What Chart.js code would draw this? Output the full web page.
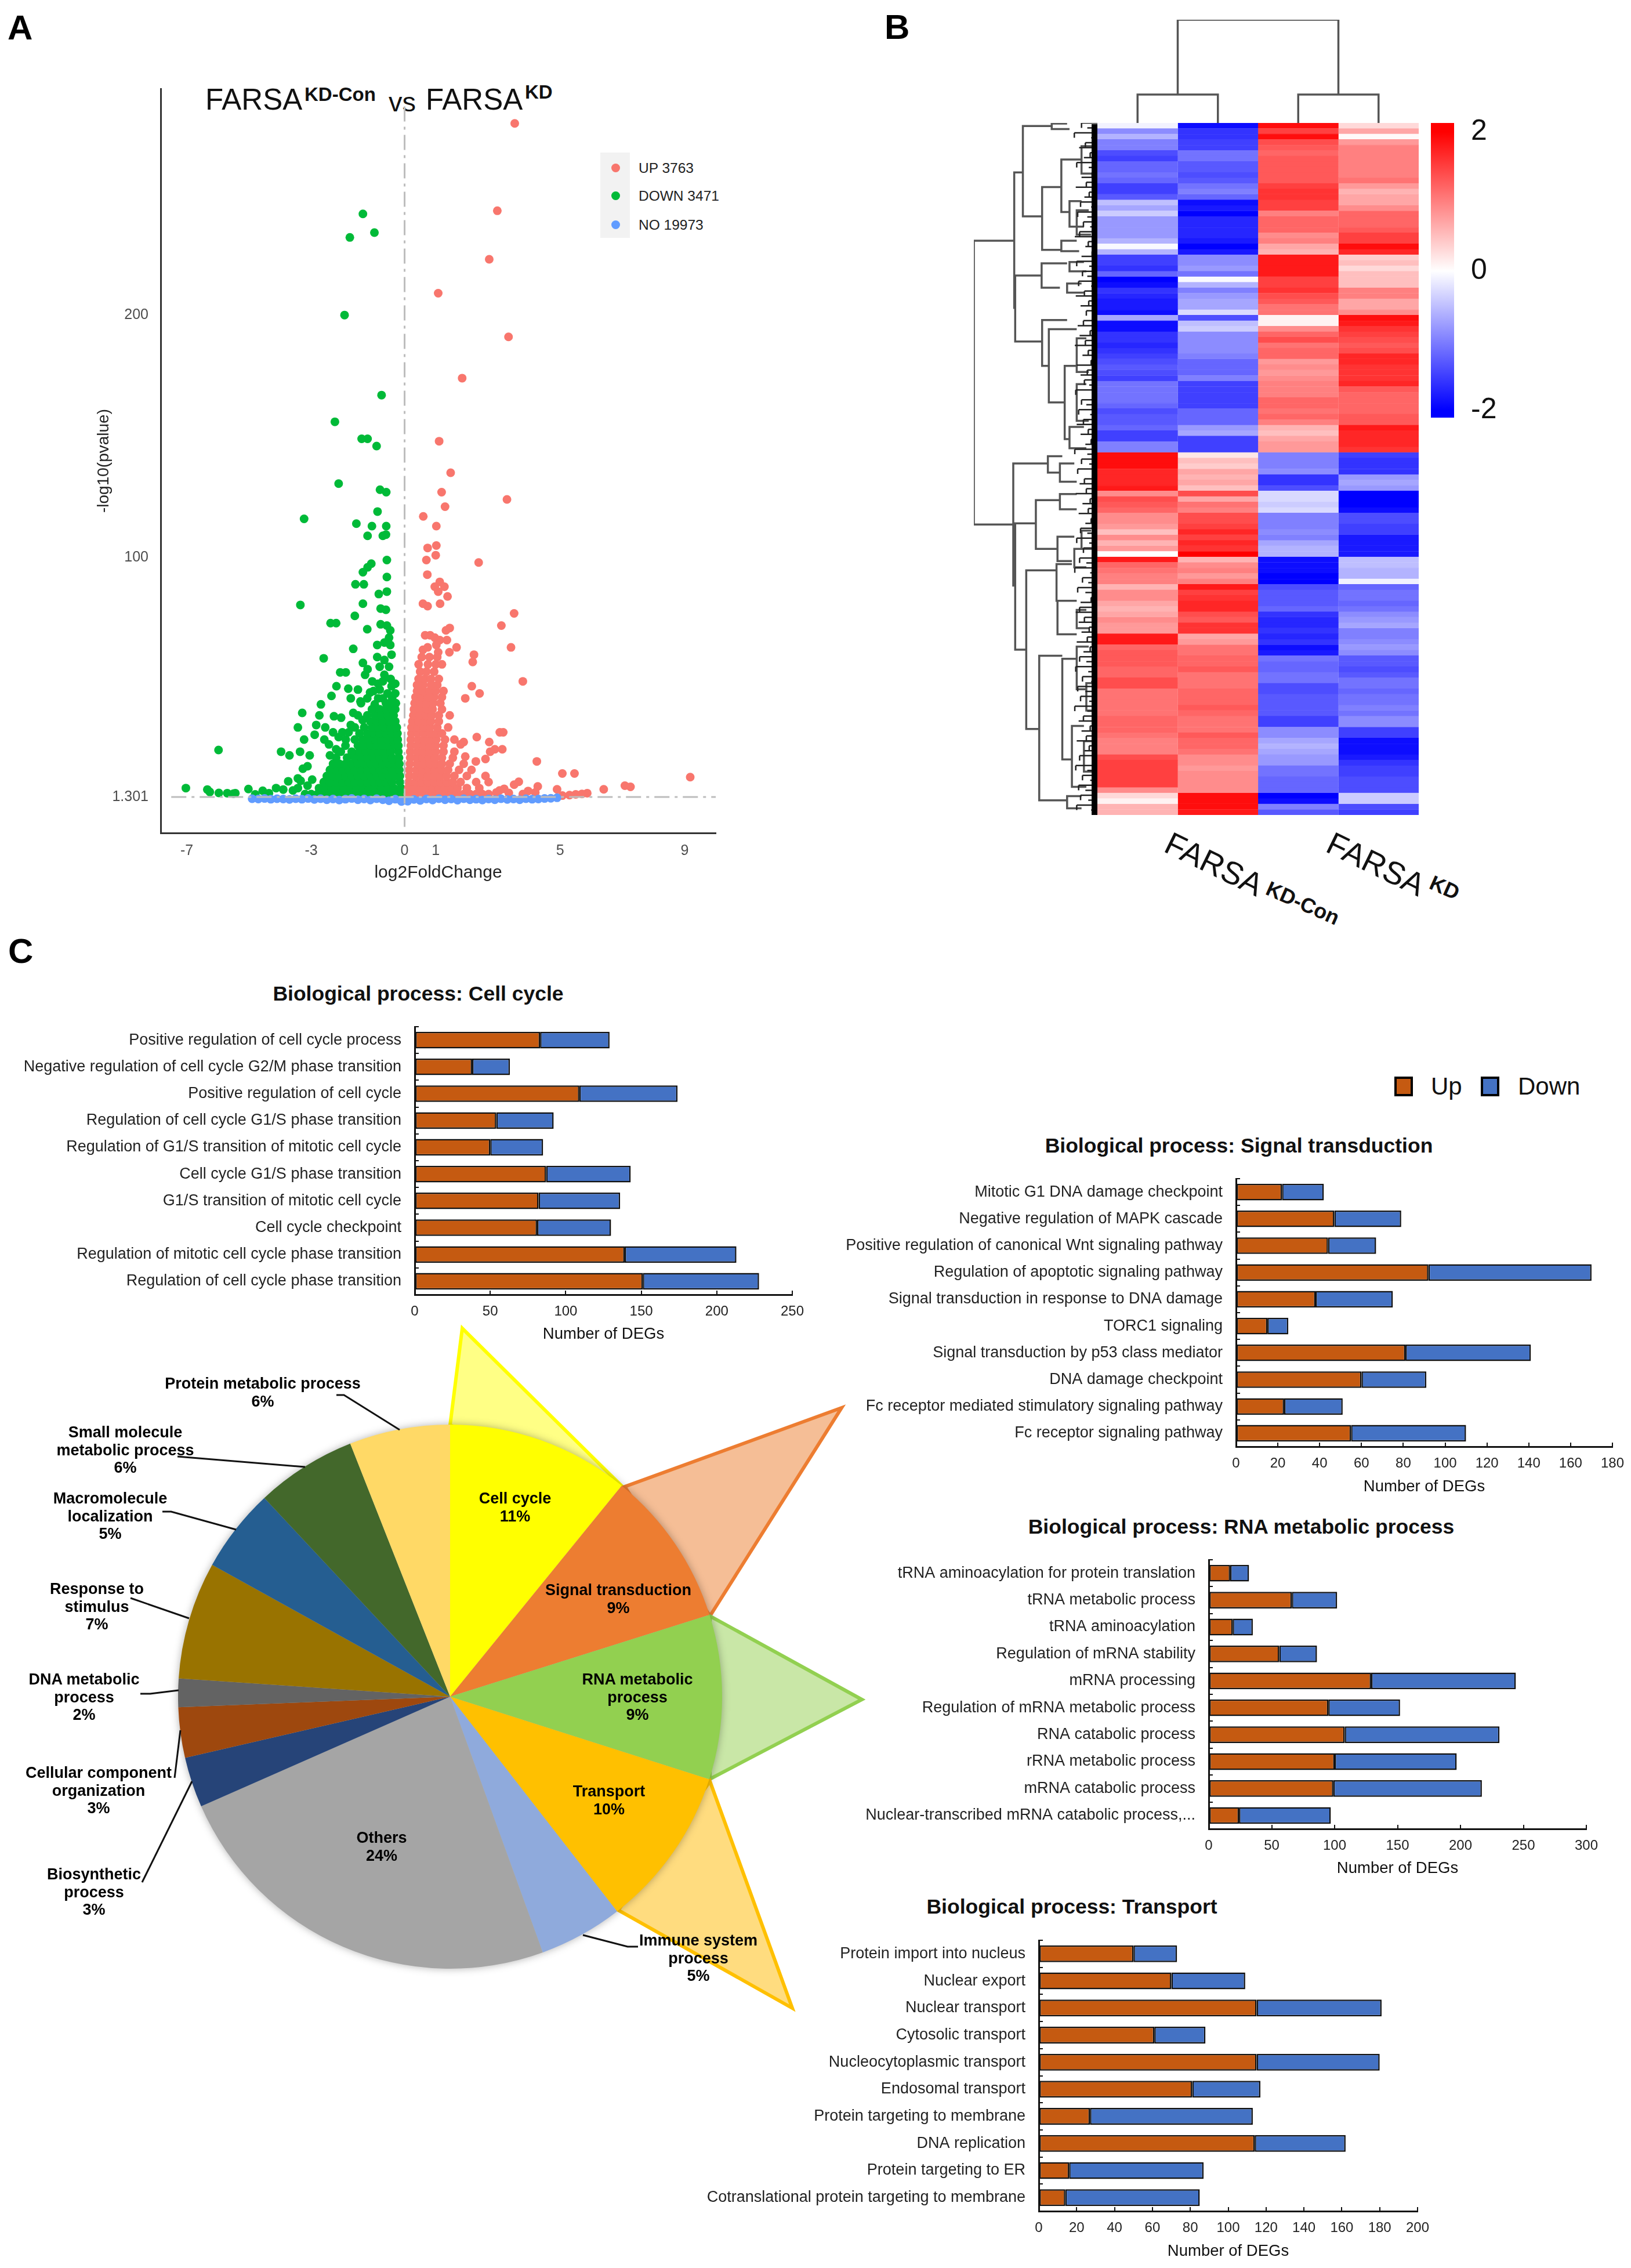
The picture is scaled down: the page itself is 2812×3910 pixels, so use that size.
<!DOCTYPE html>
<html>
<head>
<meta charset="utf-8">
<script src="https://cdn.jsdelivr.net/npm/chart.js@4"></script>
<style>
    html, body { margin: 0; padding: 0; background: #fff; }
    body { position: relative; width: 2812px; height: 3910px; overflow: hidden; font-family: 'Liberation Sans', Arial, sans-serif; color: #111; }
    canvas { position: absolute; }
    svg { position: absolute; left: 0; top: 0; }
    .t { position: absolute; white-space: nowrap; line-height: 1; }
    .c { transform: translate(-50%, -50%); text-align: center; }
    .panel { font-size: 60px; font-weight: bold; color: #000; }
    .bar-title { font-size: 35.5px; font-weight: bold; }
    .pie-label { font-size: 27px; font-weight: bold; line-height: 30.5px; z-index: 5; color: #000; }
    .swatch { position: absolute; width: 24px; height: 26px; border: 4px solid #000; }
    .dot { position: absolute; width: 15px; height: 15px; border-radius: 50%; }
</style>
</head>
<body>

<!-- panel letters -->
<div class="t panel" style="left:13px;top:18px">A</div>
<div class="t panel" style="left:1525px;top:17px">B</div>
<div class="t panel" style="left:14px;top:1610px">C</div>

<!-- volcano title -->
<div class="t" style="left:354px;top:146px;font-size:51px">FARSA</div>
<div class="t" style="left:525px;top:146px;font-size:33px;font-weight:bold">KD-Con</div>
<div class="t" style="left:670px;top:152px;font-size:47px">vs</div>
<div class="t" style="left:734px;top:146px;font-size:51px">FARSA</div>
<div class="t" style="left:905px;top:142px;font-size:33px;font-weight:bold">KD</div>

<!-- volcano legend -->
<div style="position:absolute;left:1035px;top:263px;width:51px;height:147px;background:#f2f2f2"></div>
<div class="dot" style="left:1054px;top:282px;background:#F8766D"></div>
<div class="dot" style="left:1054px;top:330px;background:#00BA38"></div>
<div class="dot" style="left:1054px;top:380px;background:#619CFF"></div>
<div class="t" style="left:1101px;top:278px;font-size:24.5px;color:#222">UP 3763</div>
<div class="t" style="left:1101px;top:326px;font-size:24.5px;color:#222">DOWN 3471</div>
<div class="t" style="left:1101px;top:376px;font-size:24.5px;color:#222">NO 19973</div>

<canvas id="volcano" width="1140" height="1400" style="left:162px;top:123px"></canvas>

<canvas id="dendroTop" width="554" height="178" style="left:1892px;top:34px"></canvas>
<canvas id="dendroLeft" width="213" height="1193" style="left:1679px;top:212px"></canvas>
<canvas id="heat" width="554" height="1193" style="left:1892px;top:212px"></canvas>
<canvas id="colorbar" width="140" height="592" style="left:2467px;top:170px"></canvas>

<!-- heatmap column labels -->
<div class="t" style="left:2004px;top:1421px;font-size:55px;transform-origin:0 46px;transform:rotate(26deg)">FARSA</div>
<div class="t" style="left:2180px;top:1511px;font-size:36px;font-weight:bold;transform-origin:0 30px;transform:rotate(24deg)">KD-Con</div>
<div class="t" style="left:2283px;top:1421px;font-size:55px;transform-origin:0 46px;transform:rotate(26deg)">FARSA</div>
<div class="t" style="left:2462px;top:1501px;font-size:36px;font-weight:bold;transform-origin:0 30px;transform:rotate(24deg)">KD</div>

<!-- bar chart titles -->
<div class="t c bar-title" style="left:721px;top:1714px">Biological process: Cell cycle</div>
<div class="t c bar-title" style="left:2136px;top:1976px">Biological process: Signal transduction</div>
<div class="t c bar-title" style="left:2140px;top:2633px">Biological process: RNA metabolic process</div>
<div class="t c bar-title" style="left:1848px;top:3288px">Biological process: Transport</div>

<canvas id="barCell" width="1000" height="640"></canvas>
<canvas id="barSignal" width="1000" height="640"></canvas>
<canvas id="barRna" width="1000" height="640"></canvas>
<canvas id="barTransport" width="1000" height="640"></canvas>

<!-- up / down key -->
<div class="swatch" style="left:2404px;top:1856px;background:#C55A11"></div>
<div class="t" style="left:2467px;top:1852px;font-size:42px">Up</div>
<div class="swatch" style="left:2553px;top:1856px;background:#4472C4"></div>
<div class="t" style="left:2617px;top:1852px;font-size:42px">Down</div>

<!-- exploded wedges behind the pie -->
<svg width="2812" height="3910" style="z-index:1">
    <polygon points="797,2290 776,2457 1073,2563" fill="#FFFF85" stroke="#FFFF00" stroke-width="6" stroke-linejoin="miter"/>
    <polygon points="1451,2427 1077,2563 1224,2786" fill="#F5BE96" stroke="#ED7D31" stroke-width="6"/>
    <polygon points="1486,2930 1224,2786 1224,3067" fill="#C9E7A7" stroke="#92D050" stroke-width="6"/>
    <polygon points="1366,3462 1224,3071 1066,3293" fill="#FFDC7F" stroke="#FFC000" stroke-width="6"/>
</svg>

<canvas id="pie" width="1000" height="1000" style="left:276px;top:2425px;z-index:2;filter:drop-shadow(0 0 7px rgba(0,0,0,.3))"></canvas>

<!-- leader lines -->
<svg width="2812" height="3910" style="z-index:3" fill="none" stroke="#111" stroke-width="3">
    <polyline points="580,2405 593,2405 689,2465"/>
    <polyline points="306,2511 526,2529"/>
    <polyline points="280,2606 295,2606 407,2637"/>
    <polyline points="225,2755 326,2790"/>
    <polyline points="242,2920 259,2920 308,2914"/>
    <polyline points="301,3065 311,2983"/>
    <polyline points="245,3245 331,3071"/>
    <polyline points="1005,3336 1082,3356 1100,3356"/>
</svg>

<div class="t c pie-label" style="left:888px;top:2598px">Cell cycle<br>11%</div>
<div class="t c pie-label" style="left:1066px;top:2756px">Signal transduction<br>9%</div>
<div class="t c pie-label" style="left:1099px;top:2926px">RNA metabolic<br>process<br>9%</div>
<div class="t c pie-label" style="left:1050px;top:3103px">Transport<br>10%</div>
<div class="t c pie-label" style="left:658px;top:3183px">Others<br>24%</div>
<div class="t c pie-label" style="left:1204px;top:3376px">Immune system<br>process<br>5%</div>
<div class="t c pie-label" style="left:453px;top:2400px">Protein metabolic process<br>6%</div>
<div class="t c pie-label" style="left:216px;top:2500px">Small molecule<br>metabolic process<br>6%</div>
<div class="t c pie-label" style="left:190px;top:2614px">Macromolecule<br>localization<br>5%</div>
<div class="t c pie-label" style="left:167px;top:2770px">Response to<br>stimulus<br>7%</div>
<div class="t c pie-label" style="left:145px;top:2926px">DNA metabolic<br>process<br>2%</div>
<div class="t c pie-label" style="left:170px;top:3087px">Cellular component<br>organization<br>3%</div>
<div class="t c pie-label" style="left:162px;top:3262px">Biosynthetic<br>process<br>3%</div>

<script>
// volcano, [log2FC, -log10 p]
const volcanoUp = [
    [3.54,279],[2.98,243],[2.72,223],[1.08,209],[3.34,191],[1.85,174],[1.11,148],[1.48,135],[1.19,127],[3.29,124],[1.3,121],[.6,117],
    [1.02,113],[1.02,105],[.74,104],[1,101],[.7,99],[2.38,98],[.73,93],[1.13,90],[.97,88],[1.28,88],[1.08,86],[1.38,84],[1.14,81],[.59,81],[.74,80],
    [3.52,77],[3.11,72],[1.33,70],[1.45,71],[.66,68],[.82,68],[.97,67],[1.13,66],[1.36,66],[3.42,63],[.59,62],[.74,63],[1.02,64],[1.08,61],
    [1.67,63],[1.44,61],[2.23,60],[2.19,57],[3.8,49],[2.16,47],[2.41,44],[1.95,42],[3.06,28],[3.17,28],[2.32,26],[2.72,24],[1.9,24],[1.8,23],
    [3.14,21],[2.9,21],[2.75,20],[2.6,17],[2.29,16],[1.95,18],[4.25,16],[5.07,11],[5.46,11],[9.18,9.5],[7.08,6],[7.26,5.5],[6.4,4.5],[5.87,2.9],
    [5.7,2.6],[5.5,2.4],[5.3,2.1],[5.07,1.9],[4.9,4.5],[4.28,5.7],[3.97,3.8],[3.67,7.6],[3.52,6.4],[3.2,4.7],[3.05,4],[4.2,3.2],[3.35,3],[3.8,2.5],[2.95,3.2],
    [.1,2.5],[.3,2.5],[.5,2.5],[.7,2.5],[.9,2.5],[1.1,2.5],[1.3,2.5],[1.5,2.5],[1.7,2.5],[1.9,2.5],[2.1,2.5],[2.3,2.5],[2.5,2.5],[2.7,2.5],
    [.12,5],[.3,5],[.5,5],[.7,5],[.9,5],[1.1,5],[1.3,5],[1.5,5],[1.7,5],[2,5],[2.4,5],
    [.13,7.5],[.35,7.5],[.55,7.5],[.75,7.5],[.95,7.5],[1.15,7.5],[1.35,7.5],[1.55,7.5],[1.8,7.5],[2.3,7.5],[2.7,7.5],
    [.15,10],[.35,10],[.55,10],[.75,10],[.95,10],[1.15,10],[1.35,10],[1.6,10],[2,10],[2.6,10],
    [.15,12.5],[.38,12.5],[.58,12.5],[.78,12.5],[.98,12.5],[1.18,12.5],[1.4,12.5],[1.75,12.5],[2.15,12.5],
    [.17,15],[.4,15],[.6,15],[.8,15],[1,15],[1.2,15],[1.45,15],[1.9,15],
    [.18,17.5],[.38,17.5],[.58,17.5],[.78,17.5],[.98,17.5],[1.2,17.5],[1.55,17.5],
    [.18,20],[.4,20],[.6,20],[.8,20],[1,20],[1.25,20],[1.6,20],
    [.2,22.5],[.4,22.5],[.6,22.5],[.8,22.5],[1,22.5],[1.25,22.5],
    [.2,25],[.42,25],[.62,25],[.82,25],[1.02,25],[1.3,25],[1.6,25],
    [.22,27.5],[.42,27.5],[.62,27.5],[.82,27.5],[1.02,27.5],[1.2,27.5],
    [.22,30],[.42,30],[.62,30],[.82,30],[1.05,30],[1.4,30],
    [.25,32.5],[.45,32.5],[.65,32.5],[.85,32.5],[1.1,32.5],
    [.28,35],[.48,35],[.68,35],[.88,35],[1.1,35],[1.45,35],
    [.3,37.5],[.5,37.5],[.7,37.5],[.9,37.5],[1.2,37.5],
    [.32,40],[.52,40],[.72,40],[.92,40],[1.15,40],
    [.35,42.5],[.55,42.5],[.75,42.5],[.95,42.5],[1.2,42.5],
    [.4,45],[.6,45],[.8,45],[1,45],[1.25,45],
    [.4,47.5],[.6,47.5],[.85,47.5],[1.05,47.5],
    [.45,50],[.65,50],[.85,50],[1.1,50],
    [.5,53],[.7,53],[.95,53],
    [.45,56],[.75,56],[1,56],[1.2,56],
    [.55,59],[.8,59],[1.05,59],
];
const volcanoDown = [
    [-1.34,241.7],[-.97,234],[-1.76,232],[-1.93,200],[-.74,167],[-2.24,156],[-1.19,149],[-1.38,149],[-.9,146],[-2.12,130.5],[-.79,128],[-.59,127],[-.87,119],
    [-3.23,116],[-1.55,114],[-1.05,113],[-.59,113],[-1.19,109],[-.7,109],[-.6,109.5],[-.57,99],[-1.07,97.5],[-1.19,96],[-1.34,94],[-.57,92],[-.83,85],[-.57,86],
    [-1.58,89],[-1.31,89],[-1.34,81],[-3.35,80.5],[-.77,79],[-.6,78.5],[-1.6,76],[-2.38,73],[-2.2,73],[-1.2,70.5],[-.77,72.5],[-.57,72],[-.46,70],[-.5,67],[-.65,65],
    [-.88,64],[-.46,64],[-1.65,62.4],[-2.6,58.5],[-1.34,56.6],[-.88,59],[-.65,57.8],[-.42,60],[-2.07,52.7],[-1.89,52.7],[-1.19,54],[-.8,55],[-.5,55],[-1.27,51.7],[-1.04,49],[-.65,51.7],
    [-2.35,43],[-2.19,47],[-1.81,46],[-1.5,45.6],[-1.11,44.4],[-.8,45.6],[-.42,47],[-2.69,39.5],[-1.73,42],[-1.42,40.7],[-.96,39.5],[-.5,39.5],[-3.29,36],[-2.74,35],[-2.27,34.6],[-2.04,34],
    [-1.65,36],[-3.43,30],[-2.84,31],[-2.89,27],[-1.73,31],[-2.58,25],[-2.12,26],[-1.89,25],[-3.23,25],[-2.43,23],[-2.2,21],[-5.98,20.7],[-3.97,20],[-3.7,18.5],[-3.36,20],[-3.05,18.5],[-3.12,14],[-3.27,13],[-3.43,9],[-2.4,18.5],
    [-1.5,35],[-1.35,33],[-1.6,30],[-1.8,28],[-2,28],[-2.3,28],[-2.55,30],[-1.4,40],[-1.2,42],[-1,45],[-.85,48],[-.7,42],[-.55,44],[-.4,42],[-.3,44],[-.28,40],[-.6,40],[-.85,42],[-.45,50],[-.7,49],[-.3,48],
    [-7.03,5],[-6.34,4.4],[-6.26,3.4],[-5.97,3],[-5.7,2.9],[-5.5,2.7],[-5.02,4.6],[-5.44,2.9],[-4.56,3.9],[-4.13,5],[-3.9,4.4],[-3.59,4],[-4.36,2.9],[-4.8,2.4],[-3.43,5],[-3.12,6],[-3.74,7.8],[-2.97,8.5],[-3.34,8],
    [-3.2,2.5],[-3,2.5],[-2.8,2.5],[-2.6,2.5],[-2.4,2.5],[-2.2,2.5],[-2,2.5],[-1.8,2.5],[-1.6,2.5],[-1.4,2.5],[-1.2,2.5],[-1,2.5],[-.8,2.5],[-.6,2.5],[-.4,2.5],[-.2,2.5],[-.08,2.5],
    [-2.75,5],[-2.55,5],[-2.35,5],[-2.15,5],[-1.95,5],[-1.75,5],[-1.55,5],[-1.35,5],[-1.15,5],[-.95,5],[-.75,5],[-.55,5],[-.35,5],[-.12,5],
    [-2.6,7.5],[-2.4,7.5],[-2.2,7.5],[-2,7.5],[-1.8,7.5],[-1.6,7.5],[-1.4,7.5],[-1.2,7.5],[-1,7.5],[-.8,7.5],[-.6,7.5],[-.4,7.5],[-.15,7.5],
    [-2.5,10],[-2.3,10],[-2.1,10],[-1.9,10],[-1.7,10],[-1.5,10],[-1.3,10],[-1.1,10],[-.9,10],[-.7,10],[-.5,10],[-.3,10],[-.15,10],
    [-2.4,12.5],[-2.2,12.5],[-2,12.5],[-1.8,12.5],[-1.6,12.5],[-1.4,12.5],[-1.2,12.5],[-1,12.5],[-.8,12.5],[-.6,12.5],[-.4,12.5],[-.17,12.5],
    [-2.3,15],[-2.1,15],[-1.9,15],[-1.7,15],[-1.5,15],[-1.3,15],[-1.1,15],[-.9,15],[-.7,15],[-.5,15],[-.3,15],[-.17,15],
    [-2.2,17.5],[-1.85,17.5],[-1.6,17.5],[-1.4,17.5],[-1.2,17.5],[-1,17.5],[-.8,17.5],[-.6,17.5],[-.4,17.5],[-.18,17.5],
    [-2.05,20],[-1.7,20],[-1.45,20],[-1.25,20],[-1.05,20],[-.85,20],[-.65,20],[-.45,20],[-.2,20],
    [-1.9,22.5],[-1.5,22.5],[-1.3,22.5],[-1.1,22.5],[-.9,22.5],[-.7,22.5],[-.5,22.5],[-.3,22.5],[-.2,22.5],
    [-1.6,25],[-1.35,25],[-1.15,25],[-.95,25],[-.75,25],[-.55,25],[-.35,25],[-.22,25],
    [-1.45,27.5],[-1.2,27.5],[-1,27.5],[-.8,27.5],[-.6,27.5],[-.4,27.5],[-.23,27.5],
    [-1.3,30],[-1.05,30],[-.85,30],[-.65,30],[-.45,30],[-.25,30],
    [-1.1,32.5],[-.9,32.5],[-.7,32.5],[-.5,32.5],[-.3,32.5],
    [-1.2,35],[-.95,35],[-.75,35],[-.55,35],[-.35,35],
    [-1.05,37.5],[-.8,37.5],[-.6,37.5],[-.4,37.5],[-.3,37.5],
];
const volcanoNo = [
    [-4.9,.6],[-4.7,.5],[-4.5,.7],[-4.3,.4],[-4.1,.6],[-3.9,.5],[-3.7,.3],[-3.5,.6],[-3.3,.4],[-3.1,.7],[-2.9,.3],[-2.7,.6],[-2.5,.2],[-2.3,.5],[-2.1,.1],[-1.9,.4],
    [-1.7,.7],[-1.5,.2],[-1.3,.5],[-1.1,.1],[-.9,.6],[-.7,.2],[-.5,-.2],[-.3,.4],[-.1,-.5],[.1,-.4],[.3,.3],[.5,-.1],[.7,.5],[.9,.1],[1.1,.6],[1.3,.2],[1.5,.5],[1.7,0],
    [1.9,.6],[2.1,.2],[2.3,.4],[2.5,.1],[2.7,.5],[2.9,.2],[3.1,.6],[3.3,.3],[3.5,.5],[3.7,.2],[3.9,.6],[4.1,.4],[4.3,.5],[4.5,.7],[4.7,.8],[4.9,1],
];
const volcanoXTicks = [-7, -3, 0, 1, 5, 9];
const volcanoYTicks = [1.301, 100, 200];

// heatmap rows, z-score per sample
const heatCon1 = [-.1,-.9,-.6,-1,-1,-1.4,-1.5,-1.2,-1.2,-1.1,-1.2,-1.5,-1.5,-1.3,-.5,-.7,-.4,-.8,-.8,-.8,-.8,-.6,-.05,-.6,-1.5,-1.5,-1.6,-1.2,-2,-1.9,-1.6,-1.7,-1.8,-1.8,-1.9,-.7,-1.9,-1.9,-1.6,-1.6,-1.7,-1.6,-1.5,-1.4,-1.3,-1.4,-1.5,-1.1,-1.1,-1.1,-1.1,-1.2,-1.4,-1.3,-1.3,-1.2,-1.5,-1.5,-1,-1,1.9,1.9,1.9,
    1.7,1.7,1.7,1.8,.9,1.4,1.3,1.2,.9,.9,.8,.5,.9,.6,.8,0,1.8,1.2,1.1,1,1,.6,.9,.9,.7,.6,.7,.9,.8,.8,1.8,1.8,1.2,1.3,1.3,1.3,1.2,1.2,1.4,1.4,1.1,1.1,1.1,1.1,1.1,1.2,1.2,1.2,1.1,1,1,1,1.4,1.5,1.5,1.5,1.5,1.5,.9,.3,.1,.6,.6];
const heatCon2 = [-1.9,-1.6,-1.6,-1.5,-1.5,-1.1,-1.1,-1.3,-1.3,-1.4,-1.3,-1.1,-1,-1.2,-1.9,-1.8,-2,-1.7,-1.7,-1.7,-1.7,-1.8,-2,-1.8,-.9,-.9,-.8,-1.1,-.05,-.6,-1,-.8,-.7,-.7,-.3,-1.4,-.5,-.4,-.9,-.9,-.9,-.9,-1,-1.2,-1.2,-1.2,-1,-1.5,-1.5,-1.5,-1.5,-1.5,-1.2,-1.2,-1.2,-.8,-.7,-1.5,-1.5,-1.5,.2,.5,.4,
    .7,.6,.7,.5,1.4,.7,1.1,1,1.4,1.4,1.5,1.7,1.5,1.7,1.6,2,.6,.9,1,.8,1,1.8,1.5,1.6,1.7,1.7,1.4,1.3,1.6,1.6,.7,.8,1.1,1.1,1.2,1.2,1.3,1.1,1.1,1.1,1.2,1.2,1.2,1.3,1.2,1.1,1.1,1.1,1.3,1.2,1.2,1.1,.9,.9,.8,.9,.9,.9,.9,1.9,1.9,1.9,1.8];
const heatKd1 = [1.9,1.5,1.9,1.4,1.3,1.2,1.3,1.3,1.3,1.3,1.3,1.5,1.6,1.6,1.5,1.5,1,1.2,1.2,1.2,.9,1,.7,.6,1.8,1.8,1.8,1.8,1.5,1.5,1.6,1.4,1.3,1.1,1.1,.1,.1,.9,1.2,1.4,1.1,1.2,1.2,.8,.9,.8,.9,1,1,1,1.2,1.2,1.1,1.2,1,.6,.5,.7,.8,.8,-1,-1,-1,
    -.9,-1.6,-1.6,-1.4,-.3,-.3,-.4,-.3,-1,-1,-1,-.9,-1,-.7,-.6,-.6,-1.9,-1.9,-1.9,-2,-2,-1.4,-1.3,-1.3,-1.3,-1.2,-1.6,-1.7,-1.7,-1.6,-1.7,-1.6,-1.9,-1.8,-1.1,-1.2,-1.2,-1.1,-1.1,-1.4,-1.4,-1.3,-1.3,-1.3,-1.3,-1.5,-1.5,-.9,-.9,-.7,-.6,-.7,-.8,-.8,-1.1,-1.1,-1.2,-1.2,-1.2,-2,-1.9,-1,-1.3];
const heatKd2 = [.3,.7,.05,.8,1,1,1,1,1,1,1.1,.8,.6,.7,.7,.9,1.2,1.2,1.2,1.3,1.5,1.5,1.9,1.7,.4,.5,.3,.5,.5,.5,1,1,.7,.7,.9,1.9,1.8,1.6,1.5,1.4,1.3,1.4,1.7,1.7,1.6,1.6,1.6,1.7,1.3,1.2,1.2,1.2,1.2,1.3,1.3,1.8,1.7,1.7,1.7,1.6,-1.5,-1.6,-1.6,
    -1.6,-.8,-.7,-.8,-2,-2,-2,-1.9,-1.4,-1.4,-1.5,-1.5,-1.8,-1.8,-1.8,-1.8,-.5,-.5,-.6,-.6,-.1,-1.2,-1.1,-1.1,-1.2,-1.1,-.9,-.8,-.7,-1,-1,-.9,-.8,-.9,-1.3,-1.3,-1.4,-1.3,-1.1,-1.1,-1.2,-1.1,-1.1,-1,-1.1,-.9,-.9,-1.5,-1.5,-1.9,-1.9,-1.9,-1.8,-1.6,-1.5,-1.5,-1.4,-1.4,-1.4,-.4,-.4,-1.4,-1.5];
const colorbarTicks = [2, 0, -2];

// dendrogram merges, [parent, rowA, childA, rowB, childB] in tree layout units
const dendroLeft = [
    [216,395,300,860,298],[300,283,318,505,302],[318,207,378,355,358],[358,307,398,410,398],[398,262,440,348,415],[302,452,357,560,358],[357,432,410,472,395],
    [358,525,410,600,372],[372,540,430,660,405],[405,600,430,720,415],[298,760,370,960,302],[370,748,400,775,395],[302,858,345,1065,325],[345,820,395,900,390],
    [395,810,430,835,430],[390,880,425,920,420],[325,935,388,1195,352],[388,925,420,985,390],[390,985,430,1040,430],[352,1075,400,1312,410],[400,1080,430,1245,420],
    [430,1060,455,1130,450],[410,1305,440,1325,440],[420,1190,445,1290,450],[415,330,440,372,445],[430,345,455,385,460],[378,203,410,212,415],[440,240,462,285,465],
    [415,430,445,445,450],[410,465,440,480,445],[430,555,450,610,455],[430,630,450,690,455],[415,700,445,735,450],[398,395,430,412,435],[440,870,460,900,462],[430,1000,450,1030,455],
    [450,1120,465,1165,465],[445,1215,462,1265,465],[425,900,445,930,450],[395,760,425,790,430],
];
const dendroTop = [[0.5, 1.5, 49, 0, 0], [2.5, 3.5, 49, 0, 0], [1, 3, 178, 49, 49]];
const dendroFringe = [440,452,425,460,448,435,458,445,430,455,462,440,450,428,456,446,438,460,432,452,444,458,436,426,454,448,462,440,430,456,
    442,452,434,460,446,428,455,438,450,462,444,432,458,436,448,426,454,442,460,430,452,438,446,456,428,462,440,450,434,458,
    444,430,454,438,460,448,426,452,440,456,432,462,446,436,450,428,458,442,454,434,460,448,438,452,430,456,444,462,436,450,
    426,458,442,454,432,448,460,438,436,428,446,434,456,440,452,430,458,444,436,450,428,454,442,460,432,448,438,456,426,452,
    444,434,458,440,450,430,456,446,436,462,428,452,442,458,434,448,438,454,430,460];

// pie slices
const pieLabels = ['Cell cycle', 'Signal transduction', 'RNA metabolic process', 'Transport', 'Immune system process', 'Others', 'Biosynthetic process',
    'Cellular component organization', 'DNA metabolic process', 'Response to stimulus', 'Macromolecule localization', 'Small molecule metabolic process', 'Protein metabolic process'];
const pieValues = [10.9, 9.3, 9.8, 9.6, 5, 24, 3, 3, 1.7, 7, 5, 6, 6];
const pieColors = ['#FFFF00', '#ED7D31', '#92D050', '#FFC000', '#8FAADC', '#A5A5A5', '#264478', '#9E480E', '#636363', '#997300', '#255E91', '#43682B', '#FFD966'];

// DEG bars
const cellLabels = ['Positive regulation of cell cycle process', 'Negative regulation of cell cycle G2/M phase transition', 'Positive regulation of cell cycle',
    'Regulation of cell cycle G1/S phase transition', 'Regulation of G1/S transition of mitotic cell cycle', 'Cell cycle G1/S phase transition',
    'G1/S transition of mitotic cell cycle', 'Cell cycle checkpoint', 'Regulation of mitotic cell cycle phase transition', 'Regulation of cell cycle phase transition'];
const cellUp = [83, 38, 109, 54, 50, 87, 82, 81, 139, 151];
const cellDown = [46, 25, 65, 38, 35, 56, 54, 49, 74, 77];

const signalLabels = ['Mitotic G1 DNA damage checkpoint', 'Negative regulation of MAPK cascade', 'Positive regulation of canonical Wnt signaling pathway',
    'Regulation of apoptotic signaling pathway', 'Signal transduction in response to DNA damage', 'TORC1 signaling', 'Signal transduction by p53 class mediator',
    'DNA damage checkpoint', 'Fc receptor mediated stimulatory signaling pathway', 'Fc receptor signaling pathway'];
const signalUp = [22, 47, 44, 92, 38, 15, 81, 60, 23, 55];
const signalDown = [20, 32, 23, 78, 37, 10, 60, 31, 28, 55];

const rnaLabels = ['tRNA aminoacylation for protein translation', 'tRNA metabolic process', 'tRNA aminoacylation', 'Regulation of mRNA stability', 'mRNA processing',
    'Regulation of mRNA metabolic process', 'RNA catabolic process', 'rRNA metabolic process', 'mRNA catabolic process', 'Nuclear-transcribed mRNA catabolic process,...'];
const rnaUp = [17, 66, 19, 56, 129, 95, 108, 100, 99, 24];
const rnaDown = [15, 36, 16, 30, 115, 57, 123, 97, 118, 73];

const transportLabels = ['Protein import into nucleus', 'Nuclear export', 'Nuclear transport', 'Cytosolic transport', 'Nucleocytoplasmic transport', 'Endosomal transport',
    'Protein targeting to membrane', 'DNA replication', 'Protein targeting to ER', 'Cotranslational protein targeting to membrane'];
const transportUp = [50, 70, 115, 61, 115, 81, 27, 114, 16, 14];
const transportDown = [23, 39, 66, 27, 65, 36, 86, 48, 71, 71];

const FONT = "'Liberation Sans', Arial, sans-serif";
Chart.defaults.font.family = FONT;
Chart.defaults.animation = false;
Chart.defaults.responsive = false;
Chart.defaults.plugins.legend.display = false;
Chart.defaults.plugins.tooltip.enabled = false;

const toPoints = (rows) => rows.map((p) => ({ x: p[0], y: p[1] }));

function zColor(z) {
    const t = Math.min(Math.abs(z) / 2, 1);
    const fade = Math.round(255 * (1 - t));
    return z >= 0 ? `rgb(255,${fade},${fade})` : `rgb(${fade},${fade},255)`;
}

function initVolcano() {
    const refStyle = { type: 'scatter', showLine: true, pointRadius: 0, borderColor: '#bdbdbd', borderWidth: 3, borderDash: [26, 9, 5, 9], order: 0 };
    const dot = (rows, color, order) => ({ data: toPoints(rows), backgroundColor: color, pointRadius: 7.5, pointBorderWidth: 0, order });
    new Chart(document.getElementById('volcano'), {
        type: 'scatter',
        data: {
            datasets: [
                { ...refStyle, data: [{ x: 0, y: 286 }, { x: 0, y: -11 }] },
                { ...refStyle, data: [{ x: -7.5, y: 1.301 }, { x: 10, y: 1.301 }] },
                dot(volcanoNo, '#619CFF', 1),
                dot(volcanoUp, '#F8766D', 2),
                dot(volcanoDown, '#00BA38', 3),
            ],
        },
        options: {
            layout: { padding: { top: 30, right: 68, bottom: 0, left: 0 } },
            scales: {
                x: {
                    min: -7.84, max: 10,
                    grid: { display: false },
                    border: { color: '#333', width: 3 },
                    afterBuildTicks: (s) => { s.ticks = volcanoXTicks.map((value) => ({ value })); },
                    afterFit: (s) => { s.height = 87; },
                    ticks: { color: '#4d4d4d', font: { size: 25 }, padding: 8, maxRotation: 0, autoSkip: false, callback: (v) => String(v) },
                    title: { display: true, text: 'log2FoldChange', color: '#222', font: { size: 30 }, padding: 0 },
                },
                y: {
                    min: -13.5, max: 293.3,
                    grid: { display: false },
                    border: { color: '#333', width: 3 },
                    afterBuildTicks: (s) => { s.ticks = volcanoYTicks.map((value) => ({ value })); },
                    afterFit: (s) => { s.width = 115; },
                    ticks: { color: '#4d4d4d', font: { size: 25 }, padding: 13, autoSkip: false, callback: (v) => String(v) },
                    title: { display: true, text: '-log10(pvalue)', color: '#222', font: { size: 28 }, padding: 0 },
                },
            },
        },
    });
}

function initHeatmap() {
    const columns = [heatCon1, heatCon2, heatKd1, heatKd2];
    new Chart(document.getElementById('heat'), {
        type: 'bar',
        data: {
            labels: heatCon1.map((_, i) => i),
            datasets: columns.map((col) => ({
                data: col.map(() => 1),
                backgroundColor: col.map(zColor),
                borderColor: col.map(zColor),
                borderWidth: 0.6,
                barPercentage: 1,
                categoryPercentage: 1,
            })),
        },
        options: {
            indexAxis: 'y',
            scales: {
                x: { display: false, stacked: true, min: 0, max: 4 },
                y: { display: false, stacked: true },
            },
        },
    });
}

function initDendrograms() {
    const leftPoints = [];
    dendroLeft.forEach(([p, a, ca, b, cb]) => {
        leftPoints.push({ x: ca, y: a }, { x: p, y: a }, { x: p, y: b }, { x: cb, y: b }, { x: null, y: null });
    });
    // dense leaf brackets along the heatmap edge
    const fringePoints = [];
    const rowAt = (i) => 202 + (i * 1134) / dendroFringe.length;
    dendroFringe.forEach((start, i) => {
        fringePoints.push({ x: start, y: rowAt(i) }, { x: 473, y: rowAt(i) }, { x: null, y: null });
        if (i % 2 === 0) {
            fringePoints.push({ x: start, y: rowAt(i) }, { x: start, y: rowAt(i + 1) }, { x: null, y: null });
        }
    });
    new Chart(document.getElementById('dendroLeft'), {
        type: 'scatter',
        data: {
            datasets: [
                { data: [{ x: 467, y: 204 }, { x: 467, y: 1336 }], showLine: true, pointRadius: 0, borderColor: '#000', borderWidth: 10 },
                { data: fringePoints, showLine: true, pointRadius: 0, borderColor: '#222', borderWidth: 2.5 },
                { data: leftPoints, showLine: true, pointRadius: 0, borderColor: '#555', borderWidth: 3.5 },
            ],
        },
        options: {
            scales: {
                x: { display: false, min: 216, max: 473 },
                y: { display: false, min: 202, max: 1336, reverse: true },
            },
        },
    });

    const topPoints = [];
    dendroTop.forEach(([a, b, h, ha, hb]) => {
        topPoints.push({ x: a, y: ha }, { x: a, y: h }, { x: b, y: h }, { x: b, y: hb }, { x: null, y: null });
    });
    new Chart(document.getElementById('dendroTop'), {
        type: 'scatter',
        data: { datasets: [{ data: topPoints, showLine: true, pointRadius: 0, borderColor: '#555', borderWidth: 3.5 }] },
        options: {
            clip: false,
            scales: {
                x: { display: false, min: 0, max: 4 },
                y: { display: false, min: 0, max: 178 },
            },
        },
    });
}

function initColorbar() {
    const chart = new Chart(document.getElementById('colorbar'), {
        type: 'bar',
        data: {
            labels: [''],
            datasets: [{ data: [[-2.11, 2.13]], backgroundColor: '#ccc', barPercentage: 1, categoryPercentage: 1 }],
        },
        options: {
            layout: { padding: { top: 42, bottom: 42 } },
            scales: {
                x: { display: false },
                y: {
                    position: 'right',
                    min: -2.11, max: 2.13,
                    grid: { display: false },
                    border: { display: false },
                    afterBuildTicks: (s) => { s.ticks = colorbarTicks.map((value) => ({ value })); },
                    afterFit: (s) => { s.width = 100; s.paddingTop = 0; s.paddingBottom = 0; },
                    ticks: { color: '#111', font: { size: 50 }, padding: 21, autoSkip: false, callback: (v) => String(v) },
                },
            },
        },
    });
    const y = chart.scales.y;
    const grad = chart.ctx.createLinearGradient(0, y.getPixelForValue(2), 0, y.getPixelForValue(-2));
    grad.addColorStop(0, zColor(2));
    grad.addColorStop(0.5, zColor(0));
    grad.addColorStop(1, zColor(-2));
    chart.data.datasets[0].backgroundColor = grad;
    chart.update();
}

function initPie() {
    new Chart(document.getElementById('pie'), {
        type: 'pie',
        data: {
            labels: pieLabels,
            datasets: [{ data: pieValues, backgroundColor: pieColors, borderWidth: 0 }],
        },
        options: { radius: 469 },
    });
}

function initBars(id, labels, up, down, cfg) {
    const canvas = document.getElementById(id);
    const leftW = 690;
    const topPad = 20;
    const rightPad = 60;
    const plotW = cfg.right - cfg.left;
    const plotH = cfg.bottom - cfg.top;
    const botH = cfg.titleY + 18 - cfg.bottom;
    canvas.width = leftW + plotW + rightPad;
    canvas.height = topPad + plotH + botH;
    canvas.style.left = (cfg.left - leftW) + 'px';
    canvas.style.top = (cfg.top - topPad) + 'px';
    const barStyle = { borderColor: '#111', borderWidth: 2.5, borderSkipped: false, barPercentage: 1, categoryPercentage: 0.62 };
    new Chart(canvas, {
        type: 'bar',
        data: {
            labels,
            datasets: [
                { ...barStyle, label: 'Up', data: up, backgroundColor: '#C55A11' },
                { ...barStyle, label: 'Down', data: down, backgroundColor: '#4472C4' },
            ],
        },
        options: {
            indexAxis: 'y',
            layout: { padding: { top: topPad, right: rightPad, bottom: 0, left: 0 } },
            scales: {
                x: {
                    stacked: true, min: 0, max: cfg.max,
                    grid: { drawOnChartArea: false, color: '#111', lineWidth: 2, tickLength: -7 },
                    border: { color: '#111', width: 3 },
                    afterFit: (s) => { s.height = botH; },
                    ticks: { stepSize: cfg.step, color: '#222', font: { size: 24 }, padding: 22, maxRotation: 0, autoSkip: false },
                    title: { display: true, text: 'Number of DEGs', color: '#111', font: { size: 27.5 }, padding: 0 },
                },
                y: {
                    stacked: true,
                    grid: { drawOnChartArea: false, color: '#111', lineWidth: 2, tickLength: -7, offset: true },
                    border: { color: '#111', width: 3 },
                    afterFit: (s) => { s.width = leftW; s.paddingTop = 0; s.paddingBottom = 0; },
                    ticks: { color: '#222', font: { size: 27 }, padding: 30, autoSkip: false },
                },
            },
        },
    });
}

document.addEventListener('DOMContentLoaded', () => {
    initVolcano();
    initHeatmap();
    initDendrograms();
    initColorbar();
    initPie();
    initBars('barCell', cellLabels, cellUp, cellDown, { left: 715, right: 1366, top: 1770, bottom: 2232, max: 250, step: 50, titleY: 2299 });
    initBars('barSignal', signalLabels, signalUp, signalDown, { left: 2131, right: 2780, top: 2032, bottom: 2494, max: 180, step: 20, titleY: 2562 });
    initBars('barRna', rnaLabels, rnaUp, rnaDown, { left: 2084, right: 2735, top: 2689, bottom: 3153, max: 300, step: 50, titleY: 3220 });
    initBars('barTransport', transportLabels, transportUp, transportDown, { left: 1791, right: 2444, top: 3345, bottom: 3812, max: 200, step: 20, titleY: 3880 });
});
</script>
</body>
</html>
